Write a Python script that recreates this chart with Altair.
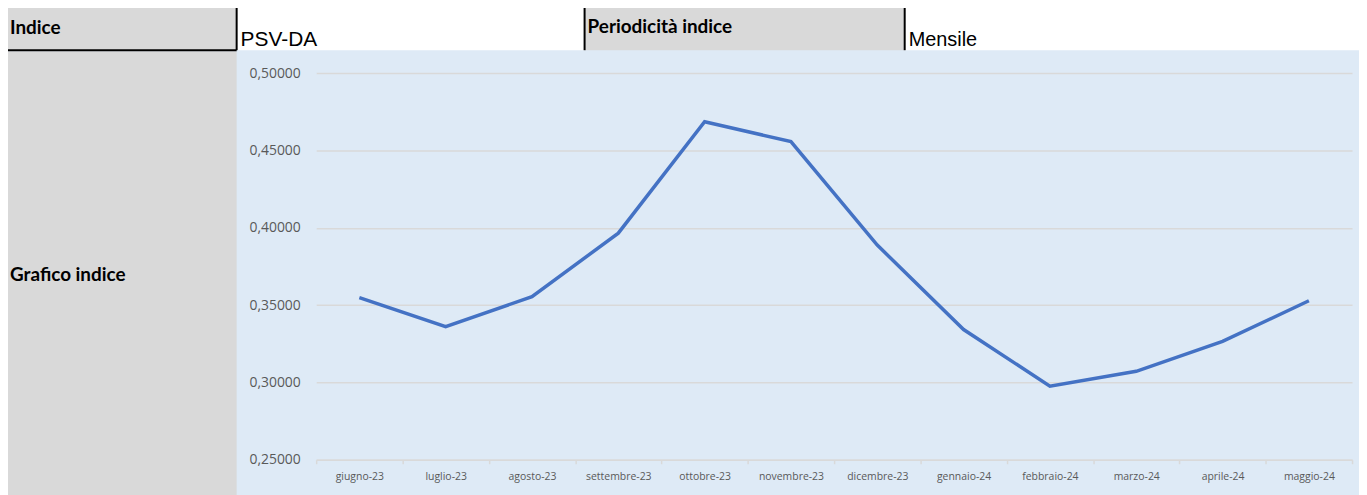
import altair as alt
import pandas as pd

months = ["giugno-23", "luglio-23", "agosto-23", "settembre-23", "ottobre-23", "novembre-23",
          "dicembre-23", "gennaio-24", "febbraio-24", "marzo-24", "aprile-24", "maggio-24"]
values = [0.3548, 0.3361, 0.3554, 0.3965, 0.4685, 0.4557,
          0.3888, 0.3342, 0.2976, 0.3072, 0.3265, 0.3528]
y_ticks = [0.25, 0.30, 0.35, 0.40, 0.45, 0.50]

header_labels = ["Indice", "Periodicità indice"]
header_values = ["PSV-DA", "Mensile"]
side_label = "Grafico indice"

df = pd.DataFrame({"mese": months, "valore": values})

GRAY = "#d9d9d9"
BLUE_BG = "#deeaf6"
one = alt.Data(values=[{"k": 0}])


def box(x1, x2, y1, y2, color):
    return alt.Chart(one).mark_rect(color=color).encode(
        x=alt.value(x1), x2=alt.value(x2), y=alt.value(y1), y2=alt.value(y2))


def rule(x1, x2, y1, y2, width=2, color="#000000"):
    return alt.Chart(one).mark_rule(color=color, strokeWidth=width).encode(
        x=alt.value(x1), x2=alt.value(x2), y=alt.value(y1), y2=alt.value(y2))


def label(txt, x, y, font, size, bold, baseline="middle"):
    return alt.Chart(one).mark_text(
        text=txt, align="left", baseline=baseline, font=font, fontSize=size,
        fontWeight="bold" if bold else "normal", color="#000000"
    ).encode(x=alt.value(x), y=alt.value(y))


deco = [
    box(-320, -80, -70, -23, GRAY),
    box(-80, 270, -70, -23, "#ffffff"),
    box(270, 592, -70, -23, GRAY),
    box(592, 1060, -70, -23, "#ffffff"),
    box(-320, -80, -22, 430, GRAY),
    rule(-80, -80, -70, -23),
    rule(270, 270, -70, -23),
    rule(592, 592, -70, -23),
    rule(-320, -80, -23, -23),
    label(header_labels[0], -308, -45, "Lato", 19, True),
    label(header_values[0], -76, -27, "Liberation Sans", 21, False, "alphabetic"),
    label(header_labels[1], 273, -46, "Lato", 19, True),
    label(header_values[1], 596, -27, "Liberation Sans", 20, False, "alphabetic"),
    label(side_label, -308, 203, "Lato", 19, True),
]

line = alt.Chart(df).mark_line(color="#4472c4", strokeWidth=3.5).encode(
    x=alt.X("mese:N", sort=months, title=None,
            scale=alt.Scale(type="band", paddingInner=0, paddingOuter=0),
            axis=alt.Axis(labelAngle=0, labelFont="Open Sans", labelFontSize=10.5,
                          labelColor="#595959", domainColor=GRAY, domainWidth=1.5,
                          tickColor=GRAY, tickWidth=1.5, tickSize=4, tickBand="extent",
                          labelPadding=8, grid=False)),
    y=alt.Y("valore:Q", title=None,
            scale=alt.Scale(domain=[0.25, 0.5], nice=False, zero=False),
            axis=alt.Axis(values=y_ticks, labelExpr="replace(format(datum.value, '.5f'), '.', ',')",
                          labelFont="Open Sans", labelFontSize=14, labelColor="#595959",
                          domain=False, ticks=False, labelPadding=16,
                          gridColor=GRAY, gridWidth=1.5)),
)

chart = alt.layer(*deco, line).properties(
    width=1042, height=389,
    padding={"left": 310, "top": 64, "right": 7, "bottom": 34},
    autosize=alt.AutoSizeParams(type="none"),
    background=BLUE_BG,
).configure_view(stroke=None, fill=None)

chart.save("out.html", embed_options={"renderer": "svg", "actions": False})
